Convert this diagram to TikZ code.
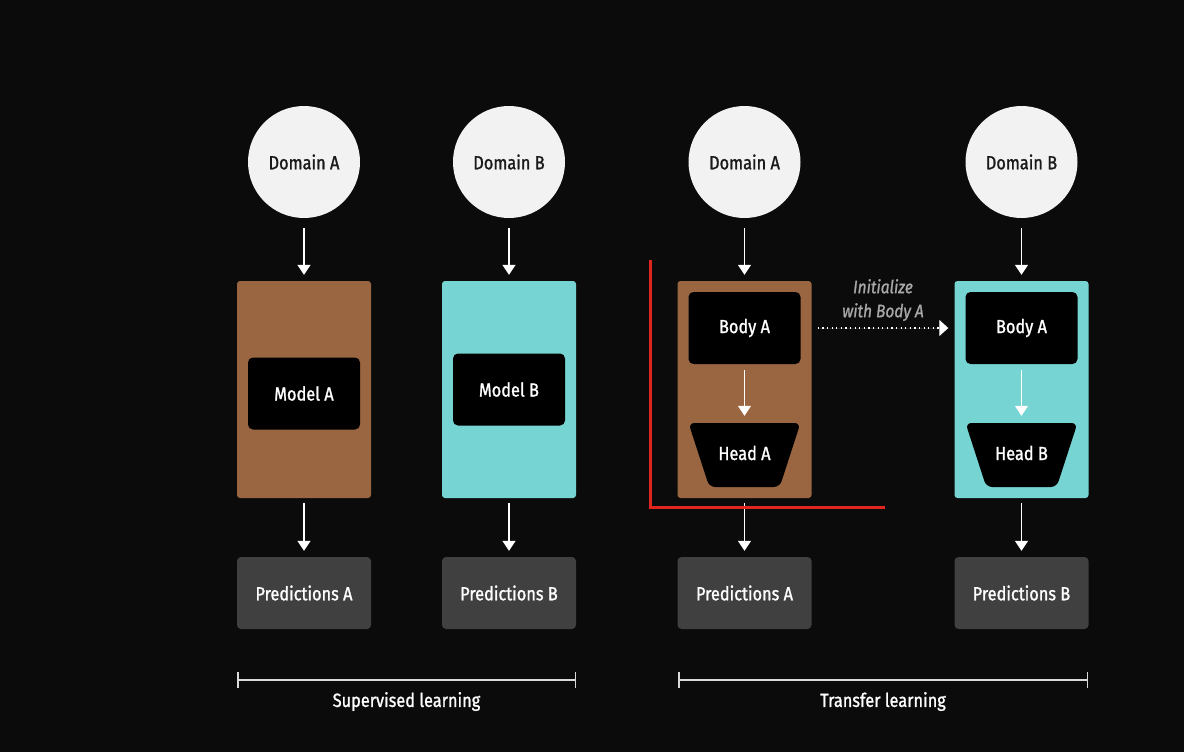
\documentclass[tikz,border=0pt]{standalone}
\usepackage{fontspec}
\setmainfont{Fira Sans}[FakeStretch=0.86,FakeBold=1.2]
\usetikzlibrary{arrows.meta,positioning,shapes.geometric}
\definecolor{bgdark}{HTML}{0B0B0B}
\definecolor{circwhite}{HTML}{F2F2F2}
\definecolor{inkdark}{HTML}{1A1A1A}
\definecolor{brownbox}{HTML}{9A6642}
\definecolor{cyanbox}{HTML}{76D4D2}
\definecolor{predgray}{HTML}{404040}
\definecolor{notegray}{HTML}{A8A8A8}
\definecolor{redline}{HTML}{E0241E}

\begin{document}
\begin{tikzpicture}[x=1pt,y=-1pt, >={Triangle[width=13pt,length=10pt]},
  dom/.style={circle,fill=circwhite,text=inkdark,minimum size=112pt,inner sep=0pt,font=\fontsize{19}{22}\selectfont},
  mdl/.style={rounded corners=3pt,minimum width=134pt,minimum height=217pt,inner sep=0pt},
  blk/.style={fill=black,rounded corners=5pt,minimum width=112pt,minimum height=72pt,inner sep=0pt,text=white,font=\fontsize{19}{22}\selectfont},
  headbox/.style={fill=black,trapezium,shape border rotate=180,trapezium stretches body=true,trapezium left angle=72,trapezium right angle=72,rounded corners=6pt,minimum width=112pt,text height=14pt,text depth=4pt,inner xsep=0pt,inner ysep=23pt,text=white,font=\fontsize{19}{22}\selectfont},
  pred/.style={fill=predgray,rounded corners=4pt,minimum width=134pt,minimum height=72pt,inner sep=0pt,text=white,font=\fontsize{19}{22}\selectfont},
  arr/.style={->,draw=white,fill=white,line width=1.4pt},
  lab/.style={text=white,font=\fontsize{19}{22}\selectfont}]
\fill[bgdark] (0,0) rectangle (1184,752);
% supervised learning
\node[dom] (DA1) at (304,162) {Domain A};
\node[dom] (DB1) at (509,162) {Domain B};
\node[mdl,fill=brownbox] (MA) at (304,389.5) {};
\node[mdl,fill=cyanbox] (MB) at (509,389.5) {};
\node[blk] (ModA) at (304,393.5) {Model A};
\node[blk] (ModB) at (509,389.5) {Model B};
\node[pred] (PA1) at (304,593) {Predictions A};
\node[pred] (PB1) at (509,593) {Predictions B};
% transfer learning
\node[dom] (DA2) at (744.5,162) {Domain A};
\node[dom] (DB2) at (1021.5,162) {Domain B};
\node[mdl,fill=brownbox] (TA) at (744.5,389.5) {};
\node[mdl,fill=cyanbox] (TB) at (1021.5,389.5) {};
\node[blk] (BodyA) at (744.5,328) {Body A};
\node[blk] (BodyB) at (1021.5,328) {Body A};
\node[headbox] (HeadA) at (744.5,455) {Head A};
\node[headbox] (HeadB) at (1021.5,455) {Head B};
\node[pred] (PA2) at (744.5,593) {Predictions A};
\node[pred] (PB2) at (1021.5,593) {Predictions B};
% arrows
\foreach \d/\m/\p in {DA1/MA/PA1,DB1/MB/PB1,DA2/TA/PA2,DB2/TB/PB2}{
  \draw[arr,shorten <=10pt,shorten >=6pt] (\d) -- (\m);
  \draw[arr,shorten <=5pt,shorten >=6pt] (\m) -- (\p);
}
\draw[arr,shorten <=6pt,shorten >=7pt] (BodyA) -- (HeadA);
\draw[arr,shorten <=6pt,shorten >=7pt] (BodyB) -- (HeadB);
\draw[arr,-{Triangle[width=16pt,length=9pt]},line width=1.2pt,dash pattern=on 1.2pt off 3.4pt,shorten <=17pt,shorten >=17pt] (BodyA) -- node[above=3pt,text=notegray,align=center,font=\fontsize{18}{24}\selectfont\itshape]{Initialize\\with Body A} (BodyB);
% red frame
\coordinate (RedTop) at (650,260);
\coordinate (RedEnd) at (885,507);
\draw[redline,line width=3pt] (RedTop) |- (RedEnd);
% brackets
\coordinate (SupL) at (237,680);
\coordinate (SupR) at (576,680);
\coordinate (TrL) at (678,680);
\coordinate (TrR) at (1088,680);
\draw[white!85!black,line width=1.5pt,{Bar[width=16pt]}-{Bar[width=16pt]}] (SupL) -- node[below=8pt,lab] (SupLab) {Supervised learning} (SupR);
\draw[white!85!black,line width=1.5pt,{Bar[width=16pt]}-{Bar[width=16pt]}] (TrL) -- node[below=8pt,lab] (TrLab) {Transfer learning} (TrR);
\end{tikzpicture}
\end{document}
